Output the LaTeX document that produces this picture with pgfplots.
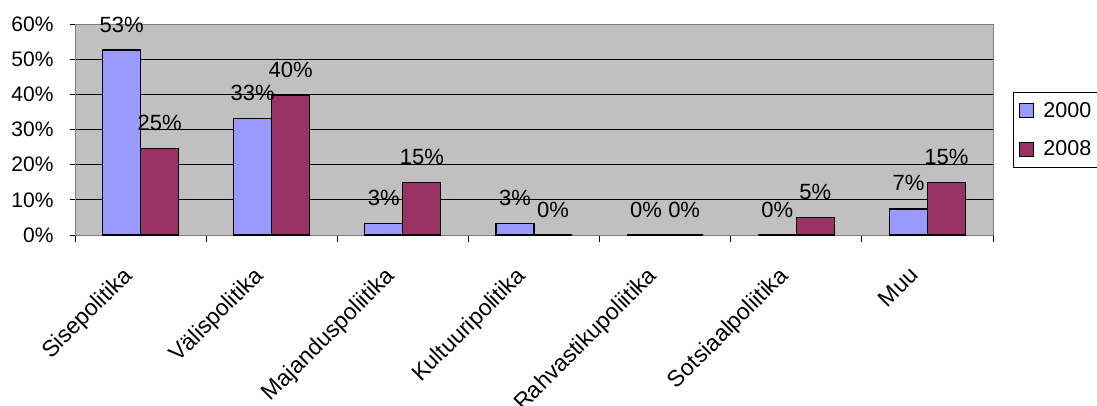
\documentclass[border=0pt]{standalone}
\usepackage{fontspec}
\setmainfont{Liberation Sans}
\usepackage{pgfplots}
\pgfplotsset{compat=1.18}
\definecolor{cA}{HTML}{9999FF}
\definecolor{cB}{HTML}{993366}
\definecolor{bg}{HTML}{C0C0C0}
\begin{document}
\begin{tikzpicture}[x=1pt,y=1pt]
\path[use as bounding box] (0,0) rectangle (1097,405);
\begin{axis}[
 at={(75pt,170pt)}, anchor=south west,
 scale only axis, width=918pt, height=211pt,
 xmin=-0.5, xmax=6.5, ymin=0, ymax=60,
 axis background/.style={fill=bg},
 axis line style={draw=gray, line width=0.8pt},
 ybar=0pt, bar width=0.29,
 xtick={0,...,6},
 xticklabels={Sisepolitika,Välispolitika,Majanduspoliitika,Kultuuripolitika,Rahvastikupoliitika,Sotsiaalpoliitika,Muu},
 minor xtick={-0.5,0.5,...,6.5},
 major x tick style={draw=none},
 minor x tick style={draw=black, line width=0.8pt},
 minor tick length=7pt,
 major tick length=5pt,
 tick align=outside,
 xtick pos=lower, ytick pos=left,
 ytick={0,10,...,60},
 yticklabels={0\%,10\%,20\%,30\%,40\%,50\%,60\%},
 ymajorgrids, grid style={black, line width=0.8pt},
 y tick style={black, line width=0.8pt},
 yticklabel style={font=\fontsize{21}{21}\selectfont, xshift=-13pt},
 xticklabel style={font=\fontsize{23}{23}\selectfont, xshift=-19pt, yshift=-25pt, rotate=45, anchor=north east, inner sep=0pt},
 nodes near coords, point meta=explicit symbolic,
 every node near coord/.append style={font=\fontsize{22}{22}\selectfont, anchor=base, yshift=18pt, inner sep=0pt},
 legend style={at={(1.0218,0.678)}, anchor=north west, draw=black, line width=0.8pt, fill=white,
   font=\fontsize{21.5}{21.5}\selectfont, inner xsep=6pt, inner ysep=8pt, row sep=18pt,
   /tikz/every odd column/.append style={column sep=7pt}},
 legend cell align=left,
]
\addplot[fill=cA, draw=black, line width=1.2pt,
  legend image code/.code={\draw[fill=cA, draw=black, line width=1pt] (0pt,-7pt) rectangle (14pt,7pt);}]
 coordinates {(0,52.6)[53\%] (1,33.2)[33\%] (2,3.3)[3\%] (3,3.3)[3\%] (4,0)[0\%] (5,0)[0\%] (6,7.4)[7\%]};
\addplot[fill=cB, draw=black, line width=1.2pt,
  legend image code/.code={\draw[fill=cB, draw=black, line width=1pt] (0pt,-7pt) rectangle (14pt,7pt);}]
 coordinates {(0,24.7)[25\%] (1,39.8)[40\%] (2,15)[15\%] (3,0)[0\%] (4,0)[0\%] (5,5)[5\%] (6,15)[15\%]};
\legend{2000,2008}
\end{axis}
\end{tikzpicture}
\end{document}
